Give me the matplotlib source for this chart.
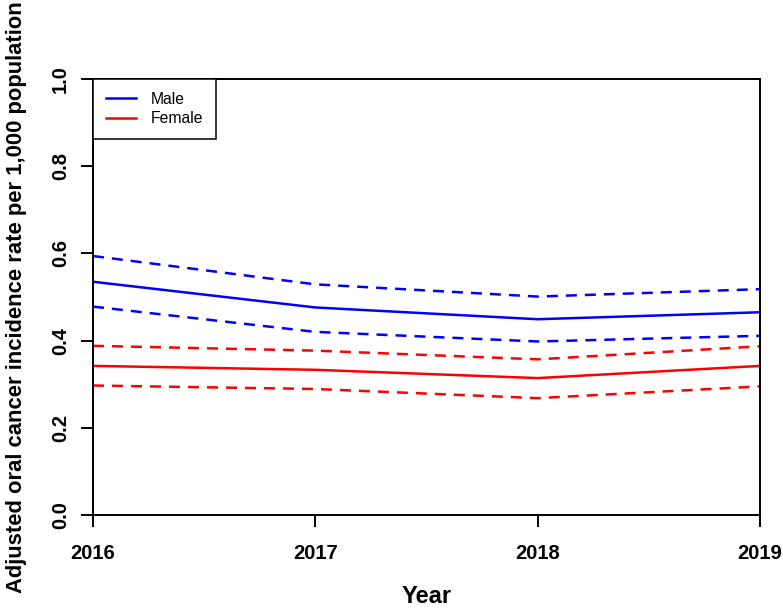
import matplotlib
matplotlib.use("Agg")
import matplotlib.pyplot as plt

plt.rcParams["font.family"] = ["Liberation Sans", "DejaVu Sans"]

# data
years = [2016, 2017, 2018, 2019]
male = [0.535, 0.476, 0.449, 0.465]
male_lo = [0.478, 0.420, 0.398, 0.411]
male_hi = [0.594, 0.529, 0.501, 0.518]
female = [0.342, 0.333, 0.314, 0.342]
female_lo = [0.297, 0.289, 0.268, 0.295]
female_hi = [0.388, 0.377, 0.357, 0.387]
y_ticks = [0.0, 0.2, 0.4, 0.6, 0.8, 1.0]

fig = plt.figure(figsize=(7.83, 6.08), dpi=100)
ax = fig.add_axes([93 / 783, 93 / 608, 667 / 783, 436 / 608])

lw = 1.8
dash = (4.4, 3.2)
ax.plot(years, male, color="blue", lw=lw, label="Male")
ax.plot(years, male_lo, color="blue", lw=lw, dashes=dash)
ax.plot(years, male_hi, color="blue", lw=lw, dashes=dash)
ax.plot(years, female, color="red", lw=lw, label="Female")
ax.plot(years, female_lo, color="red", lw=lw, dashes=dash)
ax.plot(years, female_hi, color="red", lw=lw, dashes=dash)

ax.set_xlim(years[0], years[-1])
ax.set_ylim(0, 1)
ax.set_xticks(years)
ax.set_xticklabels([str(y) for y in years], fontsize=14.5, fontweight="bold")
ax.set_yticks(y_ticks)
ax.set_yticklabels([f"{v:.1f}" for v in y_ticks], fontsize=14.5, fontweight="bold",
                   rotation=90, va="center")
ax.tick_params(direction="out", length=8.6, width=1.4)
ax.tick_params(axis="x", pad=12)
ax.tick_params(axis="y", pad=8)
for s in ax.spines.values():
    s.set_linewidth(1.4)

ax.set_xlabel("Year", fontsize=17, fontweight="bold", labelpad=16)
ax.set_ylabel("Adjusted oral cancer incidence rate per 1,000 population",
              fontsize=15.8, fontweight="bold", labelpad=17)

leg = ax.legend(loc="upper left", bbox_to_anchor=(0, 1), borderaxespad=0,
                fancybox=False, framealpha=1, edgecolor="black", fontsize=11.3,
                handlelength=1.95, handletextpad=0.95, borderpad=0.8,
                labelspacing=0.3)
leg.get_frame().set_linewidth(1.1)

fig.savefig("out.png", dpi=100)
